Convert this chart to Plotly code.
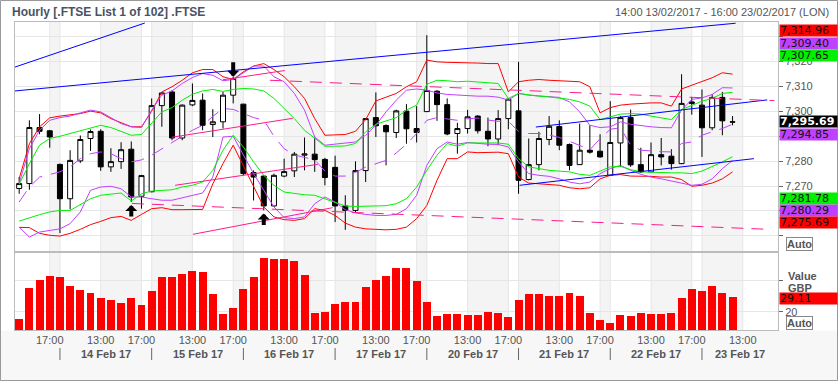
import plotly.graph_objects as go

# ---------------- data ----------------
bars = list(range(71))
open_ = [7269.0, 7271.0, 7293.5, 7292.2, 7278.7, 7264.9, 7280.1, 7289.1, 7292.0, 7277.7, 7279.8, 7284.8, 7265.9, 7267.7, 7302.3,
         7307.8, 7289.3, 7302.6, 7304.5, 7294.7, 7295.8, 7306.5, 7302.9, 7275.4, 7274.0, 7262.0, 7274.0, 7276.1, 7282.4, 7282.8,
         7280.7, 7277.5, 7262.0, 7260.2, 7276.2, 7297.5, 7294.3, 7291.5, 7300.1, 7293.1, 7299.9, 7308.1, 7302.7, 7291.1, 7293.1,
         7298.1, 7292.0, 7288.9, 7297.1, 7300.2, 7272.6, 7278.6, 7288.7, 7293.9, 7286.7, 7278.6, 7284.4, 7284.0, 7274.3, 7287.3,
         7297.5, 7278.6, 7275.7, 7282.6, 7282.0, 7279.0, 7303.8, 7302.5, 7293.4, 7305.6, 7295.8]
high = [7273.6, 7296.4, 7298.9, 7292.5, 7279.0, 7284.4, 7290.3, 7292.7, 7292.8, 7285.2, 7287.6, 7287.9, 7274.5, 7305.2, 7307.8,
        7308.5, 7302.8, 7311.2, 7307.2, 7300.9, 7307.8, 7313.9, 7303.0, 7276.3, 7274.2, 7275.0, 7281.0, 7283.7, 7289.5, 7289.5,
        7281.3, 7282.2, 7266.3, 7279.9, 7297.3, 7307.6, 7294.8, 7300.7, 7302.9, 7302.1, 7330.6, 7308.5, 7305.2, 7295.4, 7300.6,
        7298.5, 7297.5, 7300.5, 7305.2, 7319.9, 7289.1, 7291.8, 7298.1, 7296.4, 7287.1, 7295.1, 7294.4, 7290.8, 7304.1, 7298.1,
        7300.7, 7285.4, 7287.5, 7289.3, 7284.8, 7314.9, 7305.8, 7308.8, 7306.9, 7307.8, 7298.1]
low = [7266.9, 7268.5, 7290.8, 7285.4, 7251.1, 7260.6, 7279.3, 7284.1, 7276.1, 7275.7, 7276.9, 7263.6, 7260.9, 7267.5, 7293.8,
       7288.4, 7288.4, 7302.1, 7292.4, 7289.7, 7293.1, 7303.2, 7274.3, 7264.2, 7260.2, 7261.6, 7273.5, 7273.6, 7276.3, 7275.7,
       7270.3, 7255.5, 7252.4, 7259.5, 7271.6, 7289.7, 7278.3, 7289.3, 7287.0, 7287.5, 7299.8, 7296.2, 7290.4, 7283.0, 7291.1,
       7291.1, 7286.0, 7286.4, 7292.8, 7266.9, 7272.3, 7276.3, 7286.4, 7284.4, 7276.3, 7278.5, 7283.0, 7281.4, 7274.2, 7277.7,
       7277.7, 7275.2, 7275.5, 7278.3, 7276.6, 7278.8, 7298.7, 7281.7, 7292.4, 7290.4, 7294.4]
close = [7271.0, 7293.5, 7292.0, 7289.7, 7264.9, 7280.3, 7288.7, 7291.9, 7277.7, 7279.8, 7284.6, 7265.6, 7274.2, 7302.3, 7307.4,
         7289.3, 7302.5, 7304.4, 7294.4, 7295.8, 7306.5, 7313.2, 7275.0, 7273.6, 7262.0, 7274.3, 7275.8, 7282.8, 7282.9, 7280.6,
         7273.4, 7262.0, 7260.2, 7276.2, 7297.1, 7294.2, 7291.8, 7300.2, 7293.0, 7291.5, 7308.4, 7302.7, 7290.9, 7293.1, 7297.8,
         7292.2, 7288.9, 7297.1, 7304.9, 7272.3, 7278.6, 7289.1, 7294.0, 7286.4, 7278.3, 7284.4, 7283.6, 7281.7, 7287.5, 7297.5,
         7278.5, 7275.7, 7282.6, 7281.7, 7279.0, 7303.2, 7303.2, 7293.4, 7305.6, 7296.2, 7295.69]
volume = [15.4, 35.0, 40.0, 42.5, 41.9, 36.2, 33.7, 31.8, 28.6, 27.4, 25.5, 28.6, 24.2, 33.1, 41.9,
          41.9, 43.8, 45.7, 45.0, 31.2, 18.6, 22.4, 34.4, 41.9, 53.9, 53.3, 53.3, 52.2, 43.2, 19.2,
          19.8, 24.9, 26.1, 26.1, 35.6, 40.0, 42.5, 47.6, 47.6, 39.4, 26.1, 17.3, 18.6, 18.6, 17.9,
          17.9, 19.8, 19.2, 16.7, 27.4, 31.2, 31.2, 29.9, 29.9, 31.8, 29.9, 19.2, 14.8, 12.9, 17.9,
          17.3, 19.2, 18.6, 18.6, 19.2, 28.6, 34.4, 33.1, 36.2, 31.8, 29.11]
red_upper = [7273.0, 7287.0, 7293.8, 7297.4, 7298.1, 7298.5, 7299.1, 7300.1, 7299.4, 7297.1, 7295.4, 7293.8, 7293.8, 7300.0, 7307.8,
             7309.9, 7312.5, 7315.5, 7316.8, 7316.8, 7313.9, 7312.8, 7315.9, 7318.2, 7319.2, 7316.8, 7313.9, 7309.9, 7305.2, 7297.1,
             7290.4, 7290.4, 7290.7, 7292.0, 7296.7, 7304.2, 7305.6, 7307.2, 7309.9, 7311.9, 7320.6, 7319.9, 7319.7, 7319.7, 7319.5,
             7319.4, 7319.2, 7319.2, 7307.8, 7311.9, 7312.5, 7312.8, 7312.5, 7312.3, 7311.9, 7311.9, 7309.9, 7299.4, 7301.5, 7302.5,
             7302.9, 7303.2, 7303.4, 7303.4, 7302.1, 7309.0, 7310.5, 7312.3, 7313.5, 7315.5, 7314.96]
red_lower = [7253.4, 7253.3, 7251.0, 7250.2, 7249.9, 7251.0, 7252.6, 7254.5, 7255.8, 7257.3, 7257.8, 7256.2, 7258.6, 7260.9, 7261.3,
             7260.5, 7260.5, 7260.5, 7260.6, 7270.9, 7279.0, 7286.4, 7278.3, 7269.6, 7261.6, 7257.6, 7256.5, 7256.2, 7256.9, 7260.9,
             7260.2, 7258.2, 7255.1, 7253.5, 7252.8, 7252.6, 7252.4, 7252.6, 7253.5, 7256.9, 7262.2, 7272.3, 7281.0, 7281.0, 7283.7,
             7283.4, 7283.6, 7283.6, 7283.0, 7273.6, 7271.2, 7270.9, 7270.7, 7270.3, 7269.3, 7268.9, 7269.3, 7272.9, 7274.3, 7274.6,
             7274.0, 7274.0, 7273.9, 7273.6, 7273.6, 7272.6, 7269.9, 7270.3, 7271.2, 7272.9, 7275.69]
green_upper = [7270.7, 7279.0, 7286.4, 7289.1, 7290.0, 7291.1, 7292.4, 7293.5, 7294.4, 7293.5, 7291.8, 7290.4, 7290.7, 7295.1, 7299.8,
               7301.5, 7304.5, 7306.9, 7308.2, 7308.8, 7308.0, 7308.8, 7309.2, 7309.0, 7308.2, 7305.2, 7301.1, 7297.1, 7292.4, 7289.1,
               7286.0, 7286.0, 7286.1, 7287.1, 7291.8, 7294.8, 7296.2, 7297.5, 7300.5, 7302.5, 7310.9, 7312.5, 7312.3, 7311.9, 7312.1,
               7311.7, 7311.5, 7311.2, 7305.2, 7307.2, 7306.5, 7306.1, 7305.8, 7305.4, 7304.8, 7303.8, 7302.1, 7296.7, 7297.8, 7298.9,
               7299.1, 7298.9, 7298.1, 7297.5, 7296.7, 7300.7, 7302.5, 7304.1, 7305.2, 7307.2, 7307.65]
green_lower = [7255.9, 7257.3, 7258.5, 7259.6, 7260.2, 7260.2, 7262.6, 7264.9, 7266.3, 7266.9, 7267.2, 7264.0, 7266.9, 7268.0, 7268.3,
               7268.5, 7269.6, 7270.3, 7271.6, 7276.3, 7284.4, 7290.4, 7285.7, 7279.7, 7274.3, 7270.3, 7267.6, 7266.9, 7266.5, 7266.3,
               7264.9, 7263.2, 7262.0, 7261.8, 7261.8, 7261.8, 7262.1, 7262.9, 7264.9, 7269.6, 7276.3, 7282.4, 7287.1, 7286.0, 7287.3,
               7287.3, 7287.3, 7287.3, 7286.8, 7281.0, 7277.7, 7277.0, 7276.3, 7276.0, 7275.7, 7274.7, 7274.3, 7276.0, 7277.7, 7277.9,
               7276.6, 7275.7, 7275.5, 7275.4, 7275.3, 7275.3, 7275.0, 7276.0, 7277.7, 7279.7, 7281.78]
purple_upper = [7271.0, 7285.0, 7292.4, 7296.4, 7297.5, 7298.1, 7299.4, 7300.5, 7299.8, 7297.5, 7295.1, 7293.8, 7293.5, 7300.5, 7306.5,
                7308.2, 7311.2, 7313.6, 7315.2, 7314.5, 7312.3, 7312.8, 7315.5, 7318.2, 7318.2, 7313.9, 7311.9, 7307.2, 7300.5, 7289.7,
                7286.4, 7286.8, 7287.1, 7287.7, 7290.4, 7294.4, 7299.8, 7304.5, 7308.5, 7309.0, 7308.5, 7307.4, 7306.8, 7306.5, 7306.5,
                7306.1, 7306.1, 7305.7, 7304.5, 7307.2, 7306.5, 7306.2, 7306.0, 7305.6, 7303.8, 7299.8, 7294.4, 7293.5, 7293.8, 7295.8,
                7294.8, 7294.2, 7293.8, 7293.5, 7293.4, 7300.5, 7304.8, 7305.4, 7306.8, 7309.5, 7309.40]
purple_lower = [7253.5, 7249.5, 7251.5, 7252.2, 7252.8, 7254.9, 7259.6, 7268.3, 7269.6, 7269.9, 7268.9, 7265.6, 7265.6, 7264.9, 7264.3,
                7264.3, 7265.3, 7266.3, 7267.2, 7273.6, 7289.7, 7290.0, 7282.4, 7275.0, 7268.3, 7261.6, 7257.3, 7256.9, 7257.6, 7262.9,
                7265.6, 7263.6, 7260.5, 7259.2, 7258.6, 7258.2, 7258.2, 7258.6, 7260.9, 7266.3, 7278.3, 7285.0, 7287.7, 7286.8, 7287.5,
                7287.1, 7286.8, 7286.7, 7285.7, 7279.7, 7275.0, 7274.3, 7273.9, 7272.9, 7271.6, 7270.9, 7271.6, 7275.0, 7277.0, 7278.3,
                7276.3, 7274.7, 7273.6, 7272.9, 7272.0, 7270.9, 7270.3, 7270.7, 7272.9, 7277.0, 7280.29]
purple_mid = [7263.6, 7269.6, 7273.6, 7274.5, 7275.7, 7277.7, 7281.0, 7283.0, 7283.7, 7283.0, 7281.0, 7279.7, 7280.5, 7282.4, 7285.0,
              7287.5, 7290.0, 7292.4, 7294.4, 7298.0, 7301.1, 7300.8, 7299.0, 7297.5, 7296.5, 7290.0, 7285.0, 7282.5, 7281.5, 7280.5,
              7276.0, 7274.0, 7274.0, 7275.5, 7277.6, 7279.0, 7280.3, 7283.3, 7286.8, 7291.1, 7296.4, 7297.5, 7297.0, 7296.4, 7297.0,
              7297.3, 7296.5, 7296.0, 7296.0, 7292.0, 7291.1, 7291.1, 7290.5, 7289.5, 7288.0, 7286.4, 7284.6, 7289.0, 7292.8, 7293.4,
              7286.4, 7284.4, 7284.0, 7283.8, 7283.7, 7287.1, 7287.7, 7290.4, 7291.8, 7293.1, 7294.85]

# drawn trend lines: (bar0, price0, bar1, price1)
blue_trend = [(-0.41, 7317.8, 12.33, 7335.5), (-0.41, 7308.2, 70.3, 7335.4),
              (50.7, 7293.7, 73.4, 7304.6), (49.1, 7270.3, 72.1, 7281.0)]
pink_dashed = [(24.6, 7312.5, 74.1, 7304.3), (11.06, 7263.0, 73.6, 7252.6)]
pink_solid = [(19.98, 7312.7, 26.06, 7316.4), (14.98, 7289.6, 26.84, 7297.2),
              (15.3, 7270.3, 29.3, 7278.7), (17.05, 7250.6, 30.76, 7261.3)]
arrow_up_bars = [11, 24]
arrow_down_bars = [21]

tick_bars = [3, 8, 12, 17, 21, 26, 30, 35, 39, 44, 48, 53, 57, 62, 66, 71]
tick_labels = ["17:00", "13:00", "17:00", "13:00", "17:00", "13:00", "17:00", "13:00",
               "17:00", "13:00", "17:00", "13:00", "17:00", "13:00", "17:00", "13:00"]
day_sep_bars = [4, 13, 22, 31, 40, 49, 58, 67]
day_labels = ["14 Feb 17", "15 Feb 17", "16 Feb 17", "17 Feb 17",
              "20 Feb 17", "21 Feb 17", "22 Feb 17", "23 Feb 17"]
price_ticks = [7250, 7260, 7270, 7280, 7290, 7300, 7310, 7320, 7330]
price_tick_text = ["", "", "7,270", "7,280", "", "7,300", "7,310", "7,320", ""]
volume_ticks = [20, 40]
volume_tick_text = ["20", ""]

# ---------------- layout helpers ----------------
W, H = 838, 381
ML, MR, MT, MB = 15, 60, 22, 51
PW, PH = W - ML - MR, H - MT - MB
def xp(px):
    return (px - ML) / PW
def yp(py):
    return (H - MB - py) / PH

XR = [-0.41, 74.46]
YR = [7243.7, 7335.9]
VR = [8.5, 57.7]

RED, GREEN, PURPLE, BLUE, PINK = "#ff0000", "#00f000", "#c040ff", "#0000ff", "#ff1a8c"
GRID = "#e6e6e6"
TXT = "#555555"

fig = go.Figure()

def line(y, color, dash=None):
    fig.add_trace(go.Scatter(x=bars, y=y, mode="lines", hoverinfo="skip",
                             line=dict(color=color, width=1, dash=dash),
                             xaxis="x", yaxis="y"))

line(red_upper, RED)
line(red_lower, RED)
line(purple_upper, PURPLE)
line(purple_lower, PURPLE)
line(green_upper, GREEN)
line(green_lower, GREEN)
line(purple_mid, PURPLE, "13px,9px")

def segs(items, color, dash=None):
    xs, ys = [], []
    for b0, p0, b1, p1 in items:
        xs += [b0, b1, None]
        ys += [p0, p1, None]
    fig.add_trace(go.Scatter(x=xs, y=ys, mode="lines", hoverinfo="skip",
                             line=dict(color=color, width=1, dash=dash),
                             xaxis="x", yaxis="y"))

segs(blue_trend, BLUE)
segs(pink_solid, PINK)
segs(pink_dashed, PINK, "12px,8px")

fig.add_trace(go.Candlestick(
    x=bars, open=open_, high=high, low=low, close=close,
    increasing=dict(line=dict(color="black", width=1), fillcolor="white"),
    decreasing=dict(line=dict(color="black", width=1), fillcolor="black"),
    whiskerwidth=0, xaxis="x", yaxis="y", hoverinfo="skip"))

fig.add_trace(go.Bar(x=bars, y=volume, width=0.78, marker=dict(color=RED, line=dict(width=0)),
                     xaxis="x2", yaxis="y2", hoverinfo="skip"))

# ---------------- shapes ----------------
shapes = []
shapes.append(dict(type="rect", xref="paper", yref="paper", x0=xp(0), x1=xp(W), y0=yp(H), y1=yp(330.5),
                   fillcolor="#f7f7f7", line=dict(width=0), layer="below"))
bounds = sorted(set(tick_bars + day_sep_bars))
edges = [XR[0]] + bounds + [XR[1]]
for i in range(len(edges) - 1):
    if i % 2 == 1:
        shapes.append(dict(type="rect", xref="x", yref="paper", x0=edges[i], x1=edges[i + 1], y0=0, y1=1,
                           fillcolor="#f4f4f4", line=dict(width=0), layer="below"))
for b in bounds:
    if b < XR[1]:
        shapes.append(dict(type="line", xref="x", yref="paper", x0=b, x1=b, y0=0, y1=1,
                           line=dict(color=GRID, width=1), layer="below"))
for b in day_sep_bars:
    shapes.append(dict(type="line", xref="x2", yref="paper", x0=b, x1=b, y0=yp(348), y1=yp(360),
                       line=dict(color="#666666", width=1)))
shapes.append(dict(type="rect", xref="paper", yref="paper", x0=xp(0.5), x1=xp(W - 0.5), y0=yp(H - 0.5), y1=yp(0.5),
                   line=dict(color="#999999", width=1), fillcolor="rgba(0,0,0,0)"))

# ---------------- annotations ----------------
ann = []
ann.append(dict(text="Hourly [.FTSE List 1 of 102] .FTSE", xref="paper", yref="paper", x=xp(10), y=yp(12),
                xanchor="left", yanchor="middle", showarrow=False,
                font=dict(family="Liberation Sans", size=12, color="#4a5264", weight="bold")))
ann.append(dict(text="14:00 13/02/2017 - 16:00 23/02/2017 (LON)", xref="paper", yref="paper", x=xp(831), y=yp(12),
                xanchor="right", yanchor="middle", showarrow=False,
                font=dict(family="Liberation Sans", size=11, color=TXT)))
for s, lab in zip(day_sep_bars, day_labels):
    cx = min(s + 4.5, len(bars) - 0.3)
    ann.append(dict(text=lab, xref="x2", yref="paper", x=cx, y=yp(354), xanchor="center", yanchor="middle",
                    showarrow=False, font=dict(family="Liberation Sans", size=11, color=TXT, weight="bold")))
for b in arrow_down_bars:
    ann.append(dict(x=b, y=high[b], xref="x", yref="y", ax=0, ay=-16, text="", showarrow=True,
                    arrowhead=1, arrowsize=0.5, arrowwidth=4, arrowcolor="black", standoff=0))
for b in arrow_up_bars:
    ann.append(dict(x=b, y=low[b], xref="x", yref="y", ax=0, ay=16, text="", showarrow=True,
                    arrowhead=1, arrowsize=0.5, arrowwidth=4, arrowcolor="black", standoff=3))

ann.append(dict(text="Value", xref="paper", yref="paper", x=xp(786), y=yp(276), xanchor="left", yanchor="middle",
                showarrow=False, font=dict(family="Liberation Sans", size=11, color=TXT, weight="bold")))
ann.append(dict(text="GBP", xref="paper", yref="paper", x=xp(786), y=yp(288), xanchor="left", yanchor="middle",
                showarrow=False, font=dict(family="Liberation Sans", size=11, color=TXT, weight="bold")))
for ycen in (244, 323):
    ann.append(dict(text="Auto", xref="paper", yref="paper", x=xp(799), y=yp(ycen), xanchor="center",
                    yanchor="middle", showarrow=False, bgcolor="white", bordercolor="#888888", borderwidth=1,
                    borderpad=0, font=dict(family="Liberation Sans", size=11, color=TXT, weight="bold")))

def badge(val, bg, ycen, fg="#111111", bold=False):
    ann.append(dict(text=f"{val:,.2f}", xref="paper", yref="paper", x=xp(778.5), y=yp(ycen),
                    xanchor="left", yanchor="middle", showarrow=False, bgcolor=bg, width=57, height=11,
                    align="left", borderpad=0,
                    font=dict(family="DejaVu Sans", size=11, color=fg, weight="bold" if bold else "normal")))

badge(red_upper[-1], RED, 30.5)
badge(purple_upper[-1], PURPLE, 43.5)
badge(green_upper[-1], GREEN, 56)
badge(close[-1], "#000000", 121.5, "white", True)
badge(purple_mid[-1], PURPLE, 134)
badge(green_lower[-1], GREEN, 198.5)
badge(purple_lower[-1], PURPLE, 210.5)
badge(red_lower[-1], RED, 222)
badge(volume[-1], RED, 298.5)

main_bottom = yp(251.5)
vol_top = yp(252)

fig.update_layout(
    width=W, height=H, autosize=False, showlegend=False,
    margin=dict(l=ML, r=MR, t=MT, b=MB, pad=0),
    paper_bgcolor="white", plot_bgcolor="white",
    font=dict(family="Liberation Sans", size=11, color=TXT),
    xaxis=dict(domain=[0, 1], range=XR, anchor="y", showticklabels=False, showgrid=False, zeroline=False,
               showline=True, mirror=True, linecolor="#bbbbbb", linewidth=1,
               rangeslider=dict(visible=False), fixedrange=True),
    yaxis=dict(domain=[main_bottom, 1], range=YR, side="right", anchor="x", tickvals=price_ticks,
               ticktext=price_tick_text, ticks="outside", ticklen=4, tickcolor="#666666",
               tickfont=dict(family="Liberation Sans", size=11, color=TXT),
               showgrid=True, gridcolor=GRID, zeroline=False,
               showline=True, mirror=True, linecolor="#bbbbbb", linewidth=1),
    xaxis2=dict(domain=[0, 1], range=XR, anchor="y2", matches="x", tickvals=tick_bars, ticktext=tick_labels,
                ticks="", tickfont=dict(family="Liberation Sans", size=11, color=TXT),
                showgrid=False, zeroline=False, showline=True, mirror=True, linecolor="#bbbbbb", linewidth=1),
    yaxis2=dict(domain=[0, vol_top], range=VR, side="right", anchor="x2", tickvals=volume_ticks,
                ticktext=volume_tick_text, ticks="outside", ticklen=4, tickcolor="#666666",
                tickfont=dict(family="Liberation Sans", size=11, color=TXT),
                showgrid=True, gridcolor=GRID, zeroline=False,
                showline=True, mirror=True, linecolor="#bbbbbb", linewidth=1),
    shapes=shapes, annotations=ann, bargap=0,
)

fig.write_html("out.html", config={"displayModeBar": False, "staticPlot": True},
               post_script="document.body.style.margin='0';document.body.style.overflow='hidden';")
